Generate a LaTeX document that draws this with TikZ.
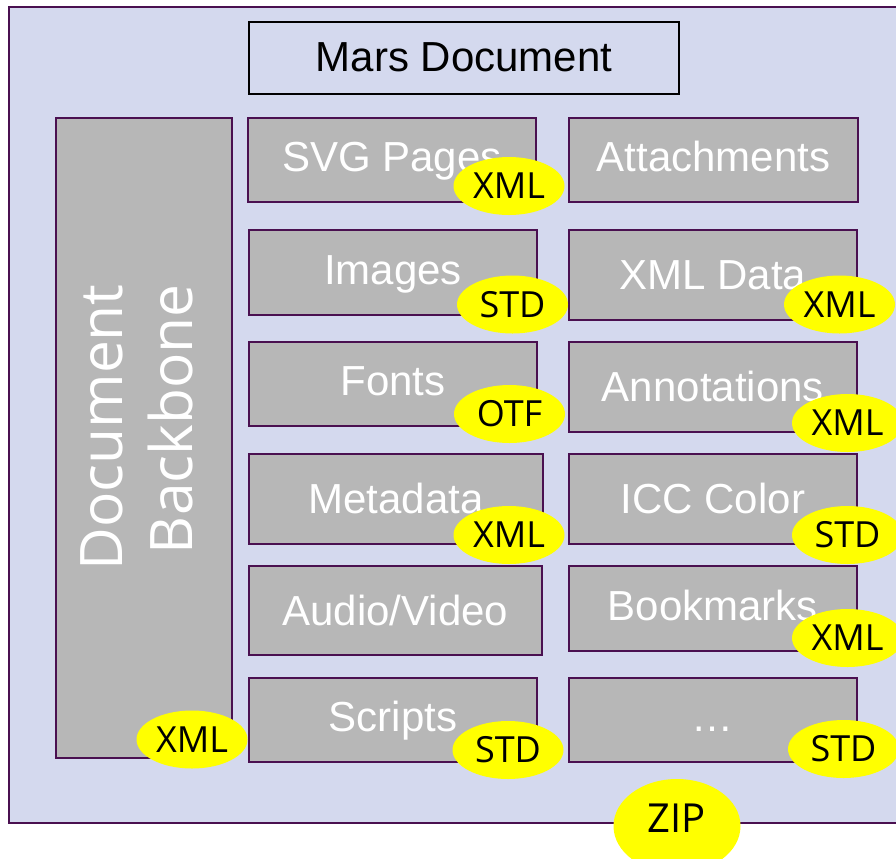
\documentclass[tikz,border=0pt]{standalone}
\usepackage{fontspec}
\setmainfont{Liberation Sans}
\newfontfamily\labfont{Open Sans}
\usetikzlibrary{shapes.geometric}
\definecolor{lav}{HTML}{D4D9EE}
\definecolor{gbox}{HTML}{B7B7B7}
\definecolor{pline}{HTML}{4A1050}
\definecolor{yel}{HTML}{FFFF00}
\tikzset{
  frame/.style={draw=pline, line width=1.5pt, fill=lav, inner sep=0pt, anchor=north west},
  graybox/.style={draw=pline, line width=1.3pt, fill=gbox, inner sep=0pt, anchor=north west,
    text=white, font=\fontsize{31.5}{36}\selectfont, text height=22.5pt, text depth=0pt},
  lowbox/.style={graybox, text depth=4.5pt},
  titlebox/.style={draw=black, line width=1.4pt, fill=lav, inner sep=0pt, anchor=north west,
    text=black, font=\fontsize{31.5}{36}\selectfont, text height=22.5pt, text depth=1.5pt},
  tag/.style={ellipse, fill=yel, inner sep=0pt, minimum width=83.25pt, minimum height=43.5pt,
    text=black, font=\labfont\fontsize{27}{30}\selectfont, text height=19.3pt, text depth=0pt},
}
\begin{document}
\begin{tikzpicture}[x=0.75pt,y=-0.75pt]
\useasboundingbox (0,0) rectangle (896,858);
\clip (0,0) rectangle (896,858);
\fill[white] (0,0) rectangle (896,858);
% outer frame
\node[frame, minimum width=676.5pt, minimum height=612pt] (outer) at (8,6) {};
% title
\node[titlebox, minimum width=322.5pt, minimum height=54pt] (mars) at (248,21) {Mars Document};
% backbone
\node[graybox, minimum width=132pt, minimum height=480pt] (backbone) at (55,117) {};
\node[rotate=90, text=white, font=\labfont\fontsize{44}{52.5}\selectfont, align=right, inner sep=0pt] (bbtext) at (137,427.5) {Document\\Backbone};
% left column
\node[lowbox, minimum width=216pt, minimum height=63pt] (svg) at (247,117) {SVG Pages};
\node[lowbox, minimum width=216pt, minimum height=63.75pt] (images) at (248,229) {Images};
\node[lowbox, minimum width=216pt, minimum height=63pt] (fonts) at (248,341) {Fonts};
\node[graybox, minimum width=220.5pt, minimum height=67.5pt] (meta) at (248,453) {Metadata};
\node[graybox, minimum width=219.75pt, minimum height=66.75pt] (av) at (248,565) {Audio/Video};
\node[lowbox, minimum width=216pt, minimum height=63pt] (scripts) at (248,677) {Scripts};
% right column
\node[lowbox, minimum width=216.75pt, minimum height=63pt] (attach) at (568,117) {Attachments};
\node[graybox, minimum width=216pt, minimum height=67.5pt] (xmldata) at (568,229) {XML Data};
\node[graybox, minimum width=216pt, minimum height=67.5pt] (annot) at (568,341) {Annotations};
\node[graybox, minimum width=216pt, minimum height=67.5pt] (icc) at (568,453) {ICC Color};
\node[lowbox, minimum width=216pt, minimum height=63.75pt] (bookm) at (568,565) {Bookmarks};
\node[lowbox, minimum width=216pt, minimum height=63pt] (more) at (568,677) {\ldots};
% tags
\node[tag] (t1) at (509,186) {XML};
\node[tag] (t2) at (512.5,304.5) {STD};
\node[tag] (t3) at (509.5,414) {OTF};
\node[tag] (t4) at (509,535) {XML};
\node[tag] (t5) at (508,750) {STD};
\node[tag] (t6) at (192,739.5) {XML};
\node[tag] (t7) at (839.5,304.5) {XML};
\node[tag] (t8) at (847.5,423) {XML};
\node[tag] (t9) at (847.5,535) {STD};
\node[tag] (t10) at (847.5,638) {XML};
\node[tag] (t11) at (843.5,749) {STD};
% zip
\node[ellipse, fill=yel, inner sep=0pt, minimum width=95.25pt, minimum height=70.5pt] (zip) at (677,826) {};
\node[text=black, font=\labfont\fontsize{30}{34}\selectfont, text height=21.4pt, text depth=0pt, inner sep=0pt] (ziptext) at (677,818.5) {ZIP};
\end{tikzpicture}
\end{document}
